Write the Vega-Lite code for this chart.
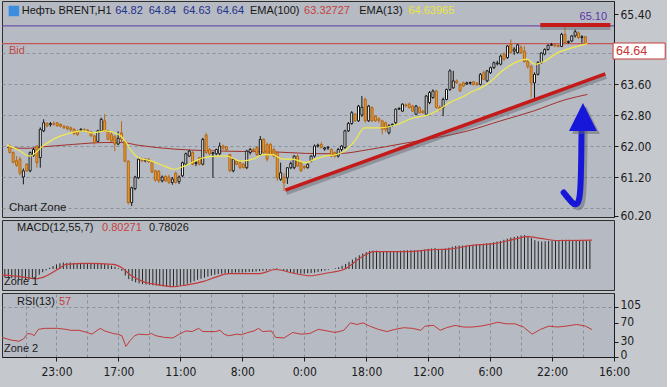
{
"$schema": "https://vega.github.io/schema/vega-lite/v6.json",
"background": "#c5c8cd",
"padding": {"left": 0, "top": 0, "right": 0, "bottom": 12},
"spacing": 3,
"bounds": "flush",
"data": {"values": [{}]},
"config": {
 "view": {"stroke": "#2e2e2e", "strokeWidth": 1, "fill": "#b6bbc3"},
 "axis": {"labelFont": "Liberation Sans Narrow, DejaVu Sans Condensed, sans-serif", "labelFontSize": 12, "labelColor": "#1b1b1b", "tickColor": "#1b1b1b", "domainColor": "#1b1b1b", "tickSize": 4, "labelPadding": 2, "gridColor": "#8a909a", "gridDash": [3, 3], "gridWidth": 1},
 "text": {"font": "Liberation Sans, Arial, sans-serif", "fontSize": 11, "baseline": "middle", "align": "left"}
},
"datasets": {
 "candles": [
{"i":-6,"o":62.00,"h":62.04,"l":61.81,"c":61.83},{"i":-5,"o":61.83,"h":61.86,"l":61.55,"c":61.58},{"i":-4,"o":61.62,"h":61.74,"l":61.46,"c":61.50},{"i":-3,"o":61.66,"h":61.72,"l":61.24,"c":61.30},{"i":-2,"o":61.20,"h":61.42,"l":61.01,"c":61.36},{"i":-1,"o":61.53,"h":61.56,"l":61.33,"c":61.36},
{"i":0,"o":61.36,"h":61.86,"l":61.32,"c":61.83},{"i":1,"o":61.76,"h":61.95,"l":61.72,"c":61.91},{"i":2,"o":62.00,"h":62.02,"l":61.44,"c":61.57},{"i":3,"o":61.70,"h":62.48,"l":61.44,"c":62.43},{"i":4,"o":62.39,"h":62.69,"l":62.36,"c":62.60},{"i":5,"o":62.58,"h":62.62,"l":62.48,"c":62.52},{"i":6,"o":62.55,"h":62.62,"l":62.50,"c":62.58},{"i":7,"o":62.58,"h":62.64,"l":62.52,"c":62.56},{"i":8,"o":62.60,"h":62.62,"l":62.50,"c":62.52},{"i":9,"o":62.56,"h":62.58,"l":62.48,"c":62.51},
{"i":10,"o":62.51,"h":62.54,"l":62.44,"c":62.47},{"i":11,"o":62.50,"h":62.52,"l":62.40,"c":62.45},{"i":12,"o":62.47,"h":62.50,"l":62.38,"c":62.42},{"i":13,"o":62.43,"h":62.46,"l":62.29,"c":62.32},{"i":14,"o":62.38,"h":62.42,"l":62.26,"c":62.30},{"i":15,"o":62.40,"h":62.46,"l":62.38,"c":62.43},{"i":16,"o":62.42,"h":62.46,"l":62.36,"c":62.41},{"i":17,"o":62.41,"h":62.44,"l":62.34,"c":62.37},{"i":18,"o":62.36,"h":62.38,"l":62.24,"c":62.26},{"i":19,"o":62.26,"h":62.28,"l":62.04,"c":62.09},
{"i":20,"o":62.12,"h":62.42,"l":62.10,"c":62.39},{"i":21,"o":62.39,"h":62.73,"l":62.36,"c":62.69},{"i":22,"o":62.65,"h":62.82,"l":62.36,"c":62.39},{"i":23,"o":62.39,"h":62.42,"l":62.15,"c":62.17},{"i":24,"o":62.30,"h":62.35,"l":62.10,"c":62.13},{"i":25,"o":62.24,"h":62.28,"l":61.87,"c":62.05},{"i":26,"o":62.05,"h":62.38,"l":62.02,"c":62.20},{"i":27,"o":62.34,"h":62.64,"l":62.10,"c":62.17},{"i":28,"o":62.13,"h":62.15,"l":61.58,"c":61.61},{"i":29,"o":61.61,"h":61.63,"l":60.49,"c":60.54},
{"i":30,"o":60.54,"h":60.95,"l":60.45,"c":60.92},{"i":31,"o":60.90,"h":61.23,"l":60.86,"c":61.20},{"i":32,"o":61.18,"h":61.70,"l":61.15,"c":61.66},{"i":33,"o":61.66,"h":61.70,"l":61.58,"c":61.62},{"i":34,"o":61.62,"h":61.68,"l":61.58,"c":61.64},{"i":35,"o":61.66,"h":61.69,"l":61.57,"c":61.59},{"i":36,"o":61.58,"h":61.60,"l":61.30,"c":61.33},{"i":37,"o":61.36,"h":61.38,"l":61.08,"c":61.12},{"i":38,"o":61.35,"h":61.38,"l":61.05,"c":61.10},{"i":39,"o":61.10,"h":61.24,"l":61.06,"c":61.20},
{"i":40,"o":61.22,"h":61.24,"l":61.08,"c":61.10},{"i":41,"o":61.20,"h":61.26,"l":61.02,"c":61.06},{"i":42,"o":61.06,"h":61.20,"l":61.00,"c":61.15},{"i":43,"o":61.30,"h":61.34,"l":61.03,"c":61.06},{"i":44,"o":61.08,"h":61.24,"l":61.02,"c":61.20},{"i":45,"o":61.23,"h":61.60,"l":61.20,"c":61.57},{"i":46,"o":61.53,"h":61.83,"l":61.50,"c":61.80},{"i":47,"o":61.74,"h":61.90,"l":61.72,"c":61.87},{"i":48,"o":61.83,"h":61.87,"l":61.50,"c":61.53},{"i":49,"o":61.55,"h":61.62,"l":61.48,"c":61.58},
{"i":50,"o":61.70,"h":61.72,"l":61.50,"c":61.53},{"i":51,"o":61.53,"h":62.21,"l":61.50,"c":62.17},{"i":52,"o":62.28,"h":62.34,"l":61.80,"c":61.83},{"i":53,"o":61.91,"h":61.95,"l":61.76,"c":61.80},{"i":54,"o":61.80,"h":61.84,"l":61.18,"c":61.83},{"i":55,"o":61.80,"h":61.93,"l":61.76,"c":61.91},{"i":56,"o":61.80,"h":62.09,"l":61.76,"c":62.00},{"i":57,"o":62.00,"h":62.04,"l":61.90,"c":61.95},{"i":58,"o":61.98,"h":62.00,"l":61.86,"c":61.90},{"i":59,"o":61.78,"h":61.80,"l":61.33,"c":61.36},
{"i":60,"o":61.36,"h":61.68,"l":61.32,"c":61.66},{"i":61,"o":61.61,"h":61.64,"l":61.50,"c":61.53},{"i":62,"o":61.57,"h":61.60,"l":61.40,"c":61.44},{"i":63,"o":61.53,"h":61.56,"l":61.42,"c":61.44},{"i":64,"o":61.44,"h":61.90,"l":61.40,"c":61.87},{"i":65,"o":61.83,"h":61.95,"l":61.78,"c":61.91},{"i":66,"o":61.91,"h":61.96,"l":61.84,"c":61.88},{"i":67,"o":61.96,"h":62.00,"l":61.74,"c":61.78},{"i":68,"o":61.78,"h":62.26,"l":61.75,"c":62.17},{"i":69,"o":62.17,"h":62.20,"l":61.80,"c":61.83},
{"i":70,"o":62.04,"h":62.09,"l":61.60,"c":61.66},{"i":71,"o":62.04,"h":62.08,"l":61.76,"c":61.78},{"i":72,"o":61.91,"h":61.95,"l":61.70,"c":61.74},{"i":73,"o":61.83,"h":61.86,"l":61.10,"c":61.18},{"i":74,"o":61.14,"h":61.57,"l":61.10,"c":61.31},{"i":75,"o":61.20,"h":61.30,"l":60.84,"c":61.05},{"i":76,"o":61.18,"h":61.45,"l":61.02,"c":61.44},{"i":77,"o":61.44,"h":61.60,"l":61.40,"c":61.55},{"i":78,"o":61.44,"h":61.76,"l":61.40,"c":61.74},{"i":79,"o":61.74,"h":61.78,"l":61.46,"c":61.48},
{"i":80,"o":61.57,"h":61.60,"l":61.33,"c":61.36},{"i":81,"o":61.48,"h":61.50,"l":61.40,"c":61.44},{"i":82,"o":61.44,"h":61.55,"l":61.42,"c":61.53},{"i":83,"o":61.61,"h":61.76,"l":61.58,"c":61.74},{"i":84,"o":61.74,"h":62.04,"l":61.70,"c":62.00},{"i":85,"o":62.00,"h":62.06,"l":61.96,"c":62.02},{"i":86,"o":62.04,"h":62.10,"l":61.94,"c":61.96},{"i":87,"o":61.92,"h":61.98,"l":61.88,"c":61.95},{"i":88,"o":61.95,"h":61.99,"l":61.90,"c":61.97},{"i":89,"o":61.91,"h":61.94,"l":61.72,"c":61.74},
{"i":90,"o":61.83,"h":61.86,"l":61.70,"c":61.74},{"i":91,"o":61.74,"h":61.95,"l":61.70,"c":61.91},{"i":92,"o":61.91,"h":62.02,"l":61.86,"c":62.00},{"i":93,"o":61.96,"h":62.42,"l":61.93,"c":62.39},{"i":94,"o":62.39,"h":62.62,"l":62.36,"c":62.58},{"i":95,"o":62.58,"h":62.90,"l":62.55,"c":62.86},{"i":96,"o":62.82,"h":62.85,"l":62.62,"c":62.65},{"i":97,"o":62.65,"h":63.06,"l":62.62,"c":63.03},{"i":98,"o":62.80,"h":63.29,"l":62.75,"c":63.00},{"i":99,"o":63.20,"h":63.25,"l":62.60,"c":62.65},
{"i":100,"o":62.65,"h":63.06,"l":62.62,"c":63.03},{"i":101,"o":62.99,"h":63.02,"l":62.62,"c":62.65},{"i":102,"o":62.77,"h":62.80,"l":62.62,"c":62.65},{"i":103,"o":62.70,"h":62.74,"l":62.60,"c":62.66},{"i":104,"o":62.65,"h":62.68,"l":62.30,"c":62.43},{"i":105,"o":62.60,"h":62.63,"l":62.36,"c":62.43},{"i":106,"o":62.34,"h":62.56,"l":62.30,"c":62.52},{"i":107,"o":62.54,"h":62.58,"l":62.50,"c":62.56},{"i":108,"o":62.60,"h":62.97,"l":62.56,"c":62.95},{"i":109,"o":62.95,"h":63.00,"l":62.93,"c":62.97},
{"i":110,"o":62.90,"h":63.10,"l":62.88,"c":63.08},{"i":111,"o":63.06,"h":63.10,"l":63.00,"c":63.04},{"i":112,"o":63.08,"h":63.12,"l":62.97,"c":62.99},{"i":113,"o":63.03,"h":63.06,"l":62.88,"c":62.90},{"i":114,"o":62.82,"h":63.06,"l":62.80,"c":63.03},{"i":115,"o":62.99,"h":63.02,"l":62.84,"c":62.86},{"i":116,"o":62.90,"h":62.93,"l":62.84,"c":62.86},{"i":117,"o":62.82,"h":63.32,"l":62.78,"c":63.29},{"i":118,"o":63.12,"h":63.42,"l":63.08,"c":63.38},{"i":119,"o":63.25,"h":63.46,"l":63.22,"c":63.42},
{"i":120,"o":63.42,"h":63.45,"l":62.97,"c":62.99},{"i":121,"o":63.00,"h":63.05,"l":62.90,"c":62.95},{"i":122,"o":62.99,"h":63.25,"l":62.77,"c":63.20},{"i":123,"o":63.20,"h":63.48,"l":63.18,"c":63.46},{"i":124,"o":63.46,"h":63.98,"l":63.42,"c":63.94},{"i":125,"o":63.50,"h":63.94,"l":63.48,"c":63.68},{"i":126,"o":63.68,"h":63.72,"l":63.60,"c":63.63},{"i":127,"o":63.59,"h":63.62,"l":63.40,"c":63.42},{"i":128,"o":63.63,"h":63.66,"l":63.52,"c":63.55},{"i":129,"o":63.60,"h":63.66,"l":63.58,"c":63.63},
{"i":130,"o":63.62,"h":63.66,"l":63.58,"c":63.64},{"i":131,"o":63.66,"h":63.68,"l":63.56,"c":63.59},{"i":132,"o":63.62,"h":63.65,"l":63.55,"c":63.58},{"i":133,"o":63.59,"h":63.88,"l":63.56,"c":63.85},{"i":134,"o":63.89,"h":63.94,"l":63.70,"c":63.72},{"i":135,"o":63.68,"h":63.96,"l":63.65,"c":63.94},{"i":136,"o":63.89,"h":64.05,"l":63.86,"c":64.02},{"i":137,"o":64.02,"h":64.18,"l":63.99,"c":64.15},{"i":138,"o":64.12,"h":64.20,"l":64.08,"c":64.14},{"i":139,"o":64.11,"h":64.36,"l":64.08,"c":64.32},
{"i":140,"o":64.37,"h":64.42,"l":64.20,"c":64.24},{"i":141,"o":64.28,"h":64.60,"l":64.25,"c":64.58},{"i":142,"o":64.62,"h":64.75,"l":64.38,"c":64.41},{"i":143,"o":64.45,"h":64.55,"l":64.35,"c":64.50},{"i":144,"o":64.41,"h":64.64,"l":64.38,"c":64.61},{"i":145,"o":64.54,"h":64.60,"l":64.38,"c":64.41},{"i":146,"o":64.45,"h":64.58,"l":64.15,"c":64.18},{"i":147,"o":64.18,"h":64.22,"l":64.00,"c":64.05},{"i":148,"o":64.05,"h":64.10,"l":63.25,"c":63.63},{"i":149,"o":63.63,"h":63.90,"l":63.21,"c":63.85},
{"i":150,"o":63.85,"h":64.19,"l":63.82,"c":64.15},{"i":151,"o":64.15,"h":64.42,"l":64.12,"c":64.40},{"i":152,"o":64.37,"h":64.52,"l":64.34,"c":64.49},{"i":153,"o":64.49,"h":64.62,"l":64.46,"c":64.60},{"i":154,"o":64.60,"h":64.66,"l":64.58,"c":64.62},{"i":155,"o":64.62,"h":64.65,"l":64.55,"c":64.58},{"i":156,"o":64.60,"h":64.62,"l":64.54,"c":64.57},{"i":157,"o":64.57,"h":64.92,"l":64.55,"c":64.88},{"i":158,"o":64.88,"h":65.07,"l":64.65,"c":64.67},{"i":159,"o":64.67,"h":64.72,"l":64.64,"c":64.70},
{"i":160,"o":64.71,"h":64.86,"l":64.68,"c":64.84},{"i":161,"o":64.84,"h":65.01,"l":64.80,"c":64.95},{"i":162,"o":64.92,"h":64.96,"l":64.76,"c":64.80},{"i":163,"o":64.80,"h":64.86,"l":64.66,"c":64.82},{"i":164,"o":64.82,"h":64.84,"l":64.63,"c":64.64}
 ],
 "ema13": [{"i":-6.83,"e":62.03},{"i":-3.4,"e":61.89},{"i":-0.05,"e":61.74},{"i":3.8,"e":62.0},{"i":7.7,"e":62.21},{"i":10.6,"e":62.30},{"i":15.5,"e":62.39},{"i":18.4,"e":62.34},{"i":22.2,"e":62.39},{"i":26.1,"e":62.30},{"i":28.05,"e":62.13},{"i":30,"e":61.87},{"i":31.9,"e":61.70},{"i":35.8,"e":61.61},{"i":39.7,"e":61.48},{"i":42.6,"e":61.40},{"i":45.5,"e":61.48},{"i":51.3,"e":61.70},{"i":55.2,"e":61.74},{"i":58.1,"e":61.74},{"i":62,"e":61.61},{"i":65.8,"e":61.66},{"i":68.7,"e":61.78},{"i":71.6,"e":61.78},{"i":74.5,"e":61.66},{"i":77.5,"e":61.66},{"i":81.3,"e":61.57},{"i":84.2,"e":61.66},{"i":87.1,"e":61.74},{"i":90.5,"e":61.78},{"i":92.9,"e":61.87},{"i":95.9,"e":62.13},{"i":98.8,"e":62.47},{"i":103.6,"e":62.47},{"i":108.5,"e":62.56},{"i":113.3,"e":62.73},{"i":118.1,"e":62.82},{"i":121.0,"e":62.95},{"i":123.9,"e":63.12},{"i":127.8,"e":63.27},{"i":130.5,"e":63.40},{"i":132.7,"e":63.48},{"i":135.6,"e":63.63},{"i":139.5,"e":63.94},{"i":144.3,"e":64.19},{"i":146.7,"e":64.24},{"i":149.1,"e":64.11},{"i":152.0,"e":64.19},{"i":155.9,"e":64.41},{"i":158.8,"e":64.50},{"i":163.7,"e":64.62},{"i":164.6,"e":64.64}],
 "ema100": [{"i":-6.83,"e":61.96},{"i":-1,"e":61.94},{"i":3.8,"e":61.98},{"i":12.5,"e":62.04},{"i":22.2,"e":62.09},{"i":27.1,"e":62.09},{"i":31.9,"e":62.02},{"i":42.6,"e":61.92},{"i":52.3,"e":61.88},{"i":62,"e":61.86},{"i":71.6,"e":61.85},{"i":81.3,"e":61.81},{"i":90.5,"e":61.80},{"i":100.2,"e":61.91},{"i":109.9,"e":62.06},{"i":119.6,"e":62.21},{"i":129.3,"e":62.39},{"i":139,"e":62.65},{"i":148.6,"e":62.90},{"i":158.3,"e":63.20},{"i":164.6,"e":63.33}],
 "trend": [{"i":75.4,"p":60.86},{"i":169.9,"p":63.86}],
 "resist": [{"i":150.7,"p":65.12},{"i":171.4,"p":65.12}],
 "arrow": [{"k":1,"i":162.9,"p":62.45},{"k":2,"i":162.8,"p":61.6},{"k":3,"i":162.6,"p":60.9},{"k":4,"i":162.2,"p":60.58},{"k":5,"i":161.3,"p":60.47},{"k":6,"i":160.1,"p":60.53},{"k":7,"i":158.9,"p":60.66},{"k":8,"i":157.6,"p":60.80}],
 "macd": [
{"i":-6,"m":-0.225},{"i":-5,"m":-0.244},{"i":-4,"m":-0.254},{"i":-3,"m":-0.273},{"i":-2,"m":-0.283},{"i":-1,"m":-0.302},{"i":0,"m":-0.30},{"i":1,"m":-0.30},{"i":2,"m":-0.28},{"i":3,"m":-0.225},{"i":4,"m":-0.158},{"i":5,"m":-0.09},{"i":6,"m":-0.034},{"i":7,"m":0.034},{"i":8,"m":0.081},{"i":9,"m":0.129},
{"i":10,"m":0.158},{"i":11,"m":0.177},{"i":12,"m":0.17},{"i":13,"m":0.18},{"i":14,"m":0.17},{"i":15,"m":0.16},{"i":16,"m":0.17},{"i":17,"m":0.16},{"i":18,"m":0.15},{"i":19,"m":0.14},{"i":20,"m":0.15},{"i":21,"m":0.17},{"i":22,"m":0.16},{"i":23,"m":0.14},{"i":24,"m":0.12},{"i":25,"m":0.09},{"i":26,"m":0.06},{"i":27,"m":0.02},{"i":28,"m":-0.05},{"i":29,"m":-0.18},
{"i":30,"m":-0.28},{"i":31,"m":-0.33},{"i":32,"m":-0.37},{"i":33,"m":-0.40},{"i":34,"m":-0.42},{"i":35,"m":-0.43},{"i":36,"m":-0.44},{"i":37,"m":-0.45},{"i":38,"m":-0.46},{"i":39,"m":-0.47},{"i":40,"m":-0.48},{"i":41,"m":-0.49},{"i":42,"m":-0.50},{"i":43,"m":-0.50},{"i":44,"m":-0.49},{"i":45,"m":-0.47},{"i":46,"m":-0.44},{"i":47,"m":-0.41},{"i":48,"m":-0.38},{"i":49,"m":-0.34},
{"i":50,"m":-0.30},{"i":51,"m":-0.27},{"i":52,"m":-0.24},{"i":53,"m":-0.21},{"i":54,"m":-0.18},{"i":55,"m":-0.16},{"i":56,"m":-0.14},{"i":57,"m":-0.13},{"i":58,"m":-0.12},{"i":59,"m":-0.11},{"i":60,"m":-0.11},{"i":61,"m":-0.10},{"i":62,"m":-0.10},{"i":63,"m":-0.10},{"i":64,"m":-0.09},{"i":65,"m":-0.08},{"i":66,"m":-0.08},{"i":67,"m":-0.07},{"i":68,"m":-0.06},{"i":69,"m":-0.05},
{"i":70,"m":-0.04},{"i":71,"m":-0.02},{"i":72,"m":0.01},{"i":73,"m":0.02},{"i":74,"m":-0.01},{"i":75,"m":-0.05},{"i":76,"m":-0.08},{"i":77,"m":-0.10},{"i":78,"m":-0.11},{"i":79,"m":-0.12},{"i":80,"m":-0.13},{"i":81,"m":-0.13},{"i":82,"m":-0.12},{"i":83,"m":-0.11},{"i":84,"m":-0.10},{"i":85,"m":-0.08},{"i":86,"m":-0.06},{"i":87,"m":-0.04},{"i":88,"m":-0.02},{"i":89,"m":0.0},
{"i":90,"m":0.02},{"i":91,"m":0.05},{"i":92,"m":0.09},{"i":93,"m":0.14},{"i":94,"m":0.20},{"i":95,"m":0.26},{"i":96,"m":0.32},{"i":97,"m":0.38},{"i":98,"m":0.43},{"i":99,"m":0.47},{"i":100,"m":0.50},{"i":101,"m":0.51},{"i":102,"m":0.51},{"i":103,"m":0.50},{"i":104,"m":0.49},{"i":105,"m":0.48},{"i":106,"m":0.48},{"i":107,"m":0.49},{"i":108,"m":0.50},{"i":109,"m":0.51},
{"i":110,"m":0.52},{"i":111,"m":0.52},{"i":112,"m":0.52},{"i":113,"m":0.52},{"i":114,"m":0.52},{"i":115,"m":0.53},{"i":116,"m":0.54},{"i":117,"m":0.56},{"i":118,"m":0.57},{"i":119,"m":0.58},{"i":120,"m":0.56},{"i":121,"m":0.56},{"i":122,"m":0.57},{"i":123,"m":0.59},{"i":124,"m":0.62},{"i":125,"m":0.64},{"i":126,"m":0.65},{"i":127,"m":0.65},{"i":128,"m":0.65},{"i":129,"m":0.66},
{"i":130,"m":0.67},{"i":131,"m":0.68},{"i":132,"m":0.69},{"i":133,"m":0.70},{"i":134,"m":0.71},{"i":135,"m":0.72},{"i":136,"m":0.74},{"i":137,"m":0.76},{"i":138,"m":0.78},{"i":139,"m":0.81},{"i":140,"m":0.84},{"i":141,"m":0.87},{"i":142,"m":0.89},{"i":143,"m":0.91},{"i":144,"m":0.93},{"i":145,"m":0.94},{"i":146,"m":0.92},{"i":147,"m":0.86},{"i":148,"m":0.80},{"i":149,"m":0.77},
{"i":150,"m":0.76},{"i":151,"m":0.77},{"i":152,"m":0.78},{"i":153,"m":0.79},{"i":154,"m":0.80},{"i":155,"m":0.80},{"i":156,"m":0.81},{"i":157,"m":0.81},{"i":158,"m":0.81},{"i":159,"m":0.80},{"i":160,"m":0.80},{"i":161,"m":0.79},{"i":162,"m":0.79},{"i":163,"m":0.78},{"i":164,"m":0.78}
 ],
 "signal": [{"i":-6.83,"s":-0.16},{"i":-1.9,"s":-0.206},{"i":3.1,"s":-0.27},{"i":5.6,"s":-0.21},{"i":9.3,"s":-0.014},{"i":11.8,"s":0.13},{"i":18,"s":0.158},{"i":25.5,"s":0.13},{"i":28,"s":0.034},{"i":30.4,"s":-0.158},{"i":34.2,"s":-0.35},{"i":37.9,"s":-0.426},{"i":42.8,"s":-0.49},{"i":46.6,"s":-0.445},{"i":51.5,"s":-0.35},{"i":55.3,"s":-0.225},{"i":59,"s":-0.129},{"i":67.7,"s":-0.129},{"i":72.7,"s":-0.014},{"i":77.6,"s":-0.11},{"i":82.6,"s":-0.187},{"i":87.6,"s":-0.11},{"i":92.5,"s":-0.014},{"i":97.5,"s":0.32},{"i":101.2,"s":0.484},{"i":111.2,"s":0.484},{"i":117.4,"s":0.53},{"i":123.6,"s":0.56},{"i":129.8,"s":0.656},{"i":136,"s":0.704},{"i":142.2,"s":0.829},{"i":145.9,"s":0.896},{"i":149.7,"s":0.848},{"i":154.6,"s":0.79},{"i":164.6,"s":0.80}],
 "rsi": [{"i":-6.83,"r":40.6},{"i":-4.35,"r":35.2},{"i":-1.86,"r":32.5},{"i":-0.62,"r":37.2},{"i":0.62,"r":48.7},{"i":1.86,"r":47.4},{"i":2.48,"r":44.0},{"i":3.73,"r":57.5},{"i":5.59,"r":59.6},{"i":9.3,"r":59.6},{"i":11.8,"r":57.5},{"i":13.0,"r":55.5},{"i":15.5,"r":55.5},{"i":18.0,"r":50.8},{"i":19.3,"r":47.4},{"i":21.7,"r":59.6},{"i":23.0,"r":54.2},{"i":25.5,"r":48.7},{"i":26.7,"r":47.4},{"i":28.0,"r":44.0},{"i":29.2,"r":21.7},{"i":30.4,"r":33.9},{"i":31.7,"r":44.0},{"i":32.9,"r":47.4},{"i":35.4,"r":46.0},{"i":36.6,"r":48.7},{"i":37.9,"r":44.0},{"i":40.4,"r":40.6},{"i":42.8,"r":39.3},{"i":44.7,"r":47.4},{"i":46.6,"r":54.2},{"i":48.4,"r":52.8},{"i":50.3,"r":59.6},{"i":51.5,"r":52.8},{"i":55.3,"r":52.8},{"i":56.5,"r":55.5},{"i":57.7,"r":47.4},{"i":59.0,"r":44.0},{"i":61.5,"r":47.4},{"i":62.7,"r":46.0},{"i":64.6,"r":50.8},{"i":66.4,"r":54.2},{"i":67.7,"r":59.6},{"i":68.9,"r":52.8},{"i":71.4,"r":54.2},{"i":72.7,"r":40.6},{"i":75.1,"r":39.3},{"i":77.6,"r":50.8},{"i":80.1,"r":47.4},{"i":82.6,"r":48.7},{"i":85.1,"r":57.5},{"i":87.6,"r":54.2},{"i":90.0,"r":50.8},{"i":92.5,"r":55.5},{"i":94.4,"r":71.1},{"i":96.3,"r":67.7},{"i":98.1,"r":71.1},{"i":100.0,"r":64.3},{"i":102.5,"r":57.5},{"i":105.0,"r":52.8},{"i":107.4,"r":57.5},{"i":109.9,"r":60.9},{"i":112.4,"r":59.6},{"i":114.9,"r":55.5},{"i":116.1,"r":64.3},{"i":118.6,"r":65.7},{"i":120.5,"r":55.5},{"i":122.3,"r":60.9},{"i":124.8,"r":65.7},{"i":127.3,"r":62.3},{"i":129.8,"r":62.3},{"i":132.3,"r":64.3},{"i":134.7,"r":67.7},{"i":137.2,"r":72.4},{"i":139.7,"r":69.1},{"i":142.2,"r":69.1},{"i":144.7,"r":62.3},{"i":147.2,"r":47.4},{"i":149.7,"r":57.5},{"i":152.1,"r":64.3},{"i":154.6,"r":62.3},{"i":157.1,"r":64.3},{"i":160.2,"r":67.7},{"i":162.7,"r":64.3},{"i":164.6,"r":57.0}]
},
"vconcat": [
{
 "width": 612, "height": 216,
 "resolve": {"axis": {"y": "independent"}},
 "layer": [
  {"mark": {"type": "rule", "color": "#5b3a9f", "strokeWidth": 1}, "encoding": {"y": {"datum": 65.10, "type": "quantitative", "axis": null}}},
  {"mark": {"type": "rule", "color": "#c65656", "strokeWidth": 1.2}, "encoding": {"y": {"datum": 64.64, "type": "quantitative", "axis": null}}},
  {"data": {"name": "ema100"}, "mark": {"type": "line", "color": "#a3302c", "strokeWidth": 1, "interpolate": "monotone", "clip": true}, "encoding": {"x": {"field": "i", "type": "quantitative", "axis": null}, "y": {"field": "e", "type": "quantitative", "axis": null}}},
  {"data": {"name": "candles"}, "mark": {"type": "rule", "strokeWidth": 1, "clip": true}, "encoding": {
    "x": {"field": "i", "type": "quantitative", "scale": {"domain": [-6.83, 171], "nice": false, "zero": false}, "axis": {"values": [0,9,18,27,36,45,54,63,72,81,90,99,108,117,126,135,144,153,162,171], "labels": false, "ticks": false, "domain": false, "grid": true, "title": null}},
    "y": {"field": "l", "type": "quantitative", "scale": {"domain": [60.168, 65.742], "nice": false, "zero": false}, "axis": {"orient": "left", "values": [60.4, 61.2, 62.0, 62.8, 63.6, 64.4], "labels": false, "ticks": false, "domain": false, "grid": true, "title": null}},
    "y2": {"field": "h"},
    "color": {"condition": {"test": "datum.c >= datum.o", "value": "#141414"}, "value": "#b86a16"}
  }},
  {"data": {"name": "candles"}, "mark": {"type": "bar", "size": 2, "strokeWidth": 1, "clip": true}, "encoding": {
    "x": {"field": "i", "type": "quantitative", "axis": null},
    "y": {"field": "o", "type": "quantitative", "axis": {"orient": "right", "values": [60.2, 61.2, 62.0, 62.8, 63.6, 65.4], "format": ".2f", "grid": false, "title": null}},
    "y2": {"field": "c"},
    "fill": {"condition": {"test": "datum.c >= datum.o", "value": "#ffffff"}, "value": "#f0a02a"},
    "stroke": {"condition": {"test": "datum.c >= datum.o", "value": "#141414"}, "value": "#b0661a"}
  }},
  {"data": {"name": "ema13"}, "mark": {"type": "line", "color": "#f2ea4a", "strokeWidth": 1.2, "interpolate": "monotone", "clip": true}, "encoding": {"x": {"field": "i", "type": "quantitative", "axis": null}, "y": {"field": "e", "type": "quantitative", "axis": null}}},
  {"data": {"name": "trend"}, "mark": {"type": "line", "color": "#5f646d", "opacity": 0.45, "strokeWidth": 4, "xOffset": 1, "yOffset": 3}, "encoding": {"x": {"field": "i", "type": "quantitative", "axis": null}, "y": {"field": "p", "type": "quantitative", "axis": null}}},
  {"data": {"name": "trend"}, "mark": {"type": "line", "color": "#c41a1a", "strokeWidth": 3.5}, "encoding": {"x": {"field": "i", "type": "quantitative", "axis": null}, "y": {"field": "p", "type": "quantitative", "axis": null}}},
  {"data": {"name": "resist"}, "mark": {"type": "line", "color": "#5f646d", "opacity": 0.45, "strokeWidth": 4, "yOffset": 3}, "encoding": {"x": {"field": "i", "type": "quantitative", "axis": null}, "y": {"field": "p", "type": "quantitative", "axis": null}}},
  {"data": {"name": "resist"}, "mark": {"type": "line", "color": "#c41a1a", "strokeWidth": 4}, "encoding": {"x": {"field": "i", "type": "quantitative", "axis": null}, "y": {"field": "p", "type": "quantitative", "axis": null}}},
  {"data": {"name": "arrow"}, "mark": {"type": "line", "color": "#5f646d", "opacity": 0.5, "strokeWidth": 6, "interpolate": "basis", "strokeCap": "round", "xOffset": 3, "yOffset": 3}, "encoding": {"x": {"field": "i", "type": "quantitative", "axis": null}, "y": {"field": "p", "type": "quantitative", "axis": null}, "order": {"field": "k"}}},
  {"data": {"name": "arrow"}, "mark": {"type": "line", "color": "#1717d9", "strokeWidth": 6, "interpolate": "basis", "strokeCap": "round"}, "encoding": {"x": {"field": "i", "type": "quantitative", "axis": null}, "y": {"field": "p", "type": "quantitative", "axis": null}, "order": {"field": "k"}}},
  {"mark": {"type": "point", "shape": "M0,-1L1,1L-1,1Z", "size": 784, "filled": true, "color": "#5f646d", "opacity": 0.5, "xOffset": 3, "yOffset": 3}, "encoding": {"x": {"datum": 163.3, "type": "quantitative", "axis": null}, "y": {"datum": 62.75, "type": "quantitative", "axis": null}}},
  {"mark": {"type": "point", "shape": "M0,-1L1,1L-1,1Z", "size": 784, "filled": true, "color": "#1717d9", "opacity": 1}, "encoding": {"x": {"datum": 163.3, "type": "quantitative", "axis": null}, "y": {"datum": 62.75, "type": "quantitative", "axis": null}}},
  {"mark": {"type": "square", "size": 110, "color": "#3b8de0", "opacity": 1}, "encoding": {"x": {"datum": -4.8, "type": "quantitative", "axis": null}, "y": {"datum": 65.484, "type": "quantitative", "axis": null}}},
  {"mark": {"type": "text", "text": "Нефть BRENT,H1", "color": "#161616"}, "encoding": {"x": {"datum": -2.47, "type": "quantitative", "axis": null}, "y": {"datum": 65.484, "type": "quantitative", "axis": null}}},
  {"mark": {"type": "text", "text": "64.82", "color": "#23308c"}, "encoding": {"x": {"datum": 25.14, "type": "quantitative", "axis": null}, "y": {"datum": 65.484, "type": "quantitative", "axis": null}}},
  {"mark": {"type": "text", "text": "64.84", "color": "#23308c"}, "encoding": {"x": {"datum": 35.02, "type": "quantitative", "axis": null}, "y": {"datum": 65.484, "type": "quantitative", "axis": null}}},
  {"mark": {"type": "text", "text": "64.63", "color": "#23308c"}, "encoding": {"x": {"datum": 45.19, "type": "quantitative", "axis": null}, "y": {"datum": 65.484, "type": "quantitative", "axis": null}}},
  {"mark": {"type": "text", "text": "64.64", "color": "#23308c"}, "encoding": {"x": {"datum": 55.07, "type": "quantitative", "axis": null}, "y": {"datum": 65.484, "type": "quantitative", "axis": null}}},
  {"mark": {"type": "text", "text": "EMA(100)", "color": "#161616"}, "encoding": {"x": {"datum": 64.95, "type": "quantitative", "axis": null}, "y": {"datum": 65.484, "type": "quantitative", "axis": null}}},
  {"mark": {"type": "text", "text": "63.32727", "color": "#c64040"}, "encoding": {"x": {"datum": 80.93, "type": "quantitative", "axis": null}, "y": {"datum": 65.484, "type": "quantitative", "axis": null}}},
  {"mark": {"type": "text", "text": "EMA(13)", "color": "#161616"}, "encoding": {"x": {"datum": 97.21, "type": "quantitative", "axis": null}, "y": {"datum": 65.484, "type": "quantitative", "axis": null}}},
  {"mark": {"type": "text", "text": "64.63965", "color": "#ebe43c"}, "encoding": {"x": {"datum": 111.74, "type": "quantitative", "axis": null}, "y": {"datum": 65.484, "type": "quantitative", "axis": null}}},
  {"mark": {"type": "text", "text": "Bid", "color": "#c24848"}, "encoding": {"x": {"datum": -6.25, "type": "quantitative", "axis": null}, "y": {"datum": 64.45, "type": "quantitative", "axis": null}}},
  {"mark": {"type": "text", "text": "Chart Zone", "color": "#1a1a1a", "fontSize": 11.5}, "encoding": {"x": {"datum": -6.25, "type": "quantitative", "axis": null}, "y": {"datum": 60.40, "type": "quantitative", "axis": null}}},
  {"mark": {"type": "text", "text": "65.10", "color": "#5b35a8", "align": "right"}, "encoding": {"x": {"datum": 170.44, "type": "quantitative", "axis": null}, "y": {"datum": 65.33, "type": "quantitative", "axis": null}}},
  {"mark": {"type": "bar", "fill": "#ffffff", "stroke": "#c43a3a", "strokeWidth": 1}, "encoding": {"x": {"datum": 172.2, "type": "quantitative", "axis": null}, "x2": {"datum": 187.6}, "y": {"datum": 64.245, "type": "quantitative", "axis": null}, "y2": {"datum": 64.658}}},
  {"mark": {"type": "text", "text": "64.64", "color": "#c83232", "fontSize": 12.5}, "encoding": {"x": {"datum": 173.06, "type": "quantitative", "axis": null}, "y": {"datum": 64.45, "type": "quantitative", "axis": null}}}
 ]
},
{
 "width": 612, "height": 70,
 "layer": [
  {"data": {"name": "macd"}, "mark": {"type": "rule", "color": "#262626", "strokeWidth": 1}, "encoding": {
    "x": {"field": "i", "type": "quantitative", "scale": {"domain": [-6.83, 171], "nice": false, "zero": false}, "axis": {"values": [0,9,18,27,36,45,54,63,72,81,90,99,108,117,126,135,144,153,162,171], "labels": false, "ticks": false, "domain": false, "grid": true, "title": null}},
    "y": {"field": "m", "type": "quantitative", "scale": {"domain": [-0.582, 1.359], "nice": false, "zero": false}, "axis": {"orient": "right", "values": [-0.55419, 1.00712], "format": ".5f", "grid": false, "title": null}},
    "y2": {"datum": 0}
  }},
  {"data": {"name": "signal"}, "mark": {"type": "line", "color": "#c23b3b", "strokeWidth": 1.2, "interpolate": "monotone", "clip": true}, "encoding": {"x": {"field": "i", "type": "quantitative", "axis": null}, "y": {"field": "s", "type": "quantitative", "axis": null}}},
  {"mark": {"type": "text", "text": "MACD(12,55,7)", "color": "#161616"}, "encoding": {"x": {"datum": -2.47, "type": "quantitative", "axis": null}, "y": {"datum": 1.137, "type": "quantitative", "axis": null}}},
  {"mark": {"type": "text", "text": "0.80271", "color": "#c64040"}, "encoding": {"x": {"datum": 22.23, "type": "quantitative", "axis": null}, "y": {"datum": 1.137, "type": "quantitative", "axis": null}}},
  {"mark": {"type": "text", "text": "0.78026", "color": "#161616"}, "encoding": {"x": {"datum": 35.89, "type": "quantitative", "axis": null}, "y": {"datum": 1.137, "type": "quantitative", "axis": null}}},
  {"mark": {"type": "text", "text": "Zone 1", "color": "#1a1a1a"}, "encoding": {"x": {"datum": -6.25, "type": "quantitative", "axis": null}, "y": {"datum": -0.36, "type": "quantitative", "axis": null}}}
 ]
},
{
 "width": 612, "height": 64,
 "resolve": {"axis": {"y": "independent", "x": "independent"}},
 "layer": [
  {"data": {"name": "rsi"}, "mark": {"type": "line", "color": "#c03a3a", "strokeWidth": 1, "clip": true}, "encoding": {
    "x": {"field": "i", "type": "quantitative", "scale": {"domain": [-6.83, 171], "nice": false, "zero": false}, "axis": {"orient": "bottom", "values": [9,27,45,63,81,99,117,135,153,171], "grid": false, "labels": true, "ticks": true, "domain": true, "labelOverlap": false, "labelFlush": false, "labelPadding": 5, "title": null, "labelExpr": "['23:00','17:00','11:00','8:00','0:00','18:00','12:00','6:00','22:00','16:00'][round((datum.value-9)/18)]"}},
    "y": {"field": "r", "type": "quantitative", "scale": {"domain": [-0.6, 133.8], "nice": false, "zero": false}, "axis": {"orient": "right", "values": [0, 30, 70, 105], "grid": false, "title": null, "labelBaseline": "bottom", "labelOffset": 5}}
  }},
  {"mark": {"type": "rule", "opacity": 0}, "encoding": {
    "x": {"datum": 0, "type": "quantitative", "axis": {"orient": "top", "values": [0,9,18,27,36,45,54,63,72,81,90,99,108,117,126,135,144,153,162,171], "labels": false, "ticks": false, "domain": false, "grid": true, "title": null}},
    "y": {"datum": 105, "type": "quantitative", "axis": {"orient": "left", "values": [105], "labels": false, "ticks": false, "domain": false, "grid": true, "title": null}}}},
  {"mark": {"type": "text", "text": "RSI(13)", "color": "#161616"}, "encoding": {"x": {"datum": -2.47, "type": "quantitative", "axis": null}, "y": {"datum": 113.9, "type": "quantitative", "axis": null}}},
  {"mark": {"type": "text", "text": "57", "color": "#c64040"}, "encoding": {"x": {"datum": 9.73, "type": "quantitative", "axis": null}, "y": {"datum": 113.9, "type": "quantitative", "axis": null}}},
  {"mark": {"type": "text", "text": "Zone 2", "color": "#1a1a1a"}, "encoding": {"x": {"datum": -6.25, "type": "quantitative", "axis": null}, "y": {"datum": 16.3, "type": "quantitative", "axis": null}}}
 ]
}
]
}
